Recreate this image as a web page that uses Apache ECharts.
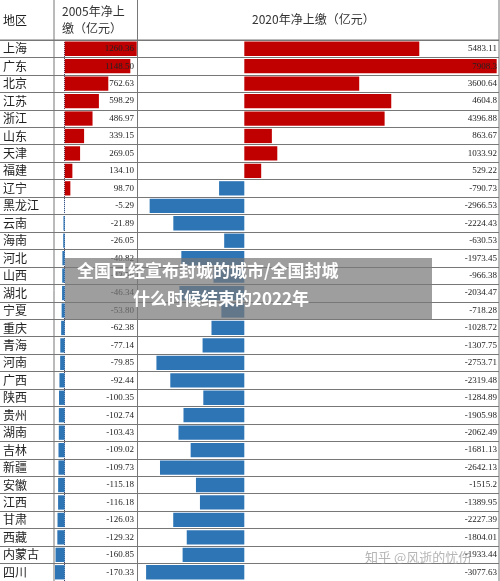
<!DOCTYPE html><html><head><meta charset="utf-8">
<script src="https://cdn.jsdelivr.net/npm/echarts@6/dist/echarts.min.js"></script>
<style>html,body{margin:0;background:#fff}#c{width:500px;height:581px}</style></head><body><div id="c"></div>
<script>
const regions=['上海','广东','北京','江苏','浙江','山东','天津','福建','辽宁','黑龙江','云南','海南','河北','山西','湖北','宁夏','重庆','青海','河南','广西','陕西','贵州','湖南','吉林','新疆','安徽','江西','甘肃','西藏','内蒙古','四川'];
const v2005=[1260.36,1148.50,762.63,598.29,486.97,339.15,269.05,134.10,98.70,-5.29,-21.89,-26.05,-40.82,-43.56,-46.34,-53.80,-62.38,-77.14,-79.85,-92.44,-100.35,-102.74,-103.43,-109.02,-109.73,-115.18,-116.18,-126.03,-129.32,-160.85,-170.33];
const v2020=[5483.11,7908.3,3600.64,4604.8,4396.88,863.67,1033.92,529.22,-790.73,-2966.53,-2224.43,-630.53,-1973.45,-966.38,-2034.47,-718.28,-1028.72,-1307.75,-2753.71,-2319.48,-1284.89,-1905.98,-2062.49,-1681.13,-2642.13,-1515.2,-1389.95,-2227.39,-1804.01,-1933.44,-3077.63];
const RED='#c00000',BLUE='#2e75b6';
const col=v=>v>=0?RED:BLUE;
const gTop=40,gBot=0;
const ch=echarts.init(document.getElementById('c'));
const yBase=(gi,show)=>({type:'category',gridIndex:gi,data:regions,inverse:true,
 axisLine:{show:false},axisTick:{show:false},
 axisLabel:show?{show:true,align:'left',margin:52,fontSize:12,fontFamily:'"Noto Sans CJK SC"',color:'#222'}:{show:false},
 splitLine:{show:false}});
ch.setOption({
 animation:false,
 grid:[{left:55,width:82,top:gTop,bottom:gBot},{left:139,width:359,top:gTop,bottom:gBot},{left:0,width:499,top:gTop,bottom:gBot}],
 xAxis:[{type:'value',gridIndex:0,min:-170,max:1265,show:false},{type:'value',gridIndex:1,min:-3300,max:7950,show:false},{type:'value',gridIndex:2,min:0,max:1,show:false}],
 yAxis:[yBase(0,true),yBase(1,false),{type:'category',gridIndex:2,data:regions,inverse:true,axisLine:{show:false},axisTick:{show:false},axisLabel:{show:false},splitLine:{show:true,interval:0,lineStyle:{color:'#777',width:1}}}],
 series:[
  {type:'bar',xAxisIndex:0,yAxisIndex:0,data:v2005.map(v=>({value:v,itemStyle:{color:col(v)}})),barWidth:'82%',z:3},
  {type:'bar',xAxisIndex:0,yAxisIndex:0,data:v2005.map(()=>1265),barGap:'-100%',barWidth:'82%',itemStyle:{color:'rgba(0,0,0,0)'},z:4,
   label:{show:true,position:'insideRight',distance:3,fontSize:9,fontFamily:'"Liberation Serif"',color:'#222',formatter:p=>v2005[p.dataIndex].toFixed(2)}},
  {type:'bar',xAxisIndex:1,yAxisIndex:1,data:v2020.map(v=>({value:v,itemStyle:{color:col(v)}})),barWidth:'82%',z:3},
  {type:'bar',xAxisIndex:1,yAxisIndex:1,data:v2020.map(()=>7950),barGap:'-100%',barWidth:'82%',itemStyle:{color:'rgba(0,0,0,0)'},z:4,
   label:{show:true,position:'insideRight',distance:1,fontSize:9,fontFamily:'"Liberation Serif"',color:'#222',formatter:p=>String(v2020[p.dataIndex])}}
 ],
 graphic:[
  {type:'line',shape:{x1:0,y1:40,x2:499,y2:40},style:{stroke:'#777'}},
  {type:'line',shape:{x1:54,y1:0,x2:54,y2:581},style:{stroke:'#777'}},
  {type:'line',shape:{x1:137.5,y1:0,x2:137.5,y2:581},style:{stroke:'#777'}},
  {type:'line',shape:{x1:499,y1:0,x2:499,y2:581},style:{stroke:'#777'}},
  {type:'line',shape:{x1:64.5,y1:40,x2:64.5,y2:581},style:{stroke:'#446',lineDash:[1,1]}},
  {type:'text',left:3,top:14,style:{text:'地区',fontSize:12,fontFamily:'"Noto Sans CJK SC"',fill:'#222'}},
  {type:'text',left:62,top:3,style:{text:'2005年净上\n缴（亿元）',fontSize:12,lineHeight:17,fontFamily:'"Noto Sans CJK SC"',fill:'#333'}},
  {type:'text',left:252,top:13,style:{text:'2020年净上缴（亿元）',fontSize:12,fontFamily:'"Noto Sans CJK SC"',fill:'#333'}},
  {type:'rect',shape:{x:65,y:258,width:367,height:62},style:{fill:'rgba(120,120,120,0.72)'},z:10},
  {type:'text',left:77,top:262,z:11,style:{text:'全国已经宣布封城的城市/全国封城',fontSize:17,fontWeight:'bold',fill:'#fff',fontFamily:'"Noto Sans CJK SC"'}},
  {type:'text',left:133,top:290,z:11,style:{text:'什么时候结束的2022年',fontSize:17,fontWeight:'bold',fill:'#fff',fontFamily:'"Noto Sans CJK SC"'}},
  {type:'text',left:365,top:551,z:11,style:{text:'知乎 @风逝的忧伤',fontSize:13,fill:'rgba(150,150,150,0.7)',fontFamily:'"Noto Sans CJK SC"'}}
 ]
});
</script></body></html>
